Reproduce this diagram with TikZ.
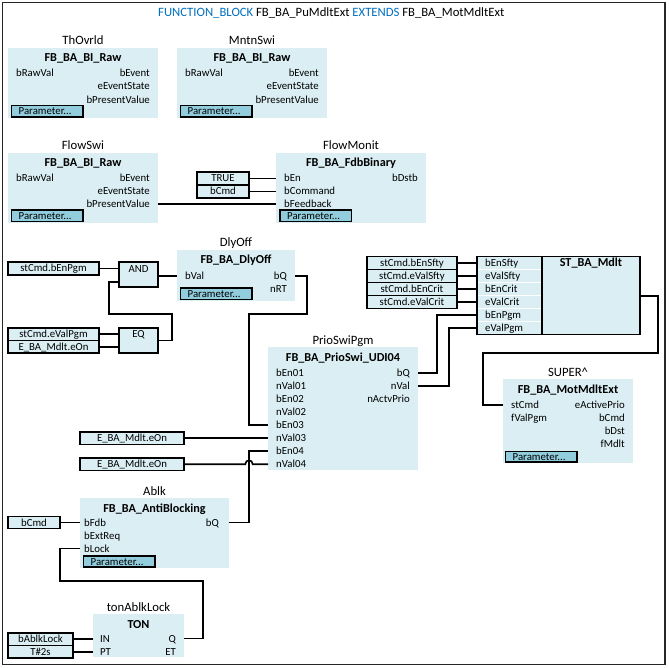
\documentclass[tikz,border=0pt]{standalone}
\usepackage{fontspec}
\setmainfont{Carlito}
\usetikzlibrary{calc}
\definecolor{fbfill}{RGB}{218,238,243}
\definecolor{parfill}{RGB}{146,205,221}
\definecolor{kw}{RGB}{0,112,192}
\newcommand\pinfont{\fontsize{10.8}{12}\selectfont}
\tikzset{
 fb/.style={fill=fbfill, draw=none, inner sep=0pt, outer sep=0pt, anchor=north west},
 inst/.style={font=\fontsize{12.7}{14}\selectfont, anchor=base, inner sep=0pt},
 typ/.style={font=\bfseries\fontsize{12.2}{14}\selectfont, anchor=base, inner sep=0pt},
 pl/.style={font=\pinfont, anchor=base west, inner sep=0pt},
 pr/.style={font=\pinfont, anchor=base east, inner sep=0pt},
 pc/.style={font=\pinfont, anchor=base, inner sep=0pt},
 parbox/.style={fill=parfill, draw=black, line width=1.1pt, inner sep=0pt, outer sep=0pt, anchor=north west},
 cbox/.style={fill=fbfill, draw=black, line width=1.1pt, inner sep=0pt, outer sep=0pt, anchor=north west, font=\pinfont, text height=9pt, text depth=2pt},
 wire/.style={draw=black, line width=1.6pt, line join=miter},
}
\newcommand\fbblock[7]{%
 \node[fb, minimum width=#4pt, minimum height=#5pt] (#1) at (#2,#3) {};
 \node[inst] (#1-inst) at (#2+#4/2,#3-3) {#6};
 \node[typ] (#1-type) at (#2+#4/2,#3+14) {#7};
}
\newcommand\pinL[4]{\node[pl] (#1) at (#2,#3+3.5) {#4};}
\newcommand\pinR[4]{\node[pr] (#1) at (#2,#3+3.5) {#4};}
\newcommand\parm[5]{%
 \node[parbox, minimum width=#4pt, minimum height=#5pt] (#1) at (#2,#3) {};
 \node[pl] (#1-t) at (#2+7,#3+#5/2+3.5) {Parameter...};
}
\newcommand\cbox[6]{\node[cbox, minimum width=#4pt, minimum height=#5pt] (#1) at (#2,#3) {#6};}
\begin{document}
\begin{tikzpicture}[x=1pt,y=-1pt]
\useasboundingbox (0,0) rectangle (669,668);
\fill[white] (0,0) rectangle (669,668);
\draw[line width=1.3pt, draw=black!85] (2.5,2.5) rectangle (665,664.5);

% title
\node[anchor=base west, inner sep=0pt, font=\fontsize{12.7}{14}\selectfont] (title) at (158,17)
 {\textcolor{kw}{FUNCTION\_BLOCK} FB\_BA\_PuMdltExt \textcolor{kw}{EXTENDS} FB\_BA\_MotMdltExt};

% ThOvrld
\fbblock{ThOvrld}{8}{48}{150}{70}{ThOvrld}{FB\_BA\_BI\_Raw}
\pinL{ThOvrld-bRawVal}{16}{73}{bRawVal}
\pinR{ThOvrld-bEvent}{150}{73}{bEvent}
\pinR{ThOvrld-eEventState}{150}{86.5}{eEventState}
\pinR{ThOvrld-bPresentValue}{150}{100}{bPresentValue}
\parm{ThOvrld-par}{11.5}{105.5}{71.5}{11.5}

% MntnSwi
\fbblock{MntnSwi}{177}{48}{150}{70}{MntnSwi}{FB\_BA\_BI\_Raw}
\pinL{MntnSwi-bRawVal}{185}{73}{bRawVal}
\pinR{MntnSwi-bEvent}{319}{73}{bEvent}
\pinR{MntnSwi-eEventState}{319}{86.5}{eEventState}
\pinR{MntnSwi-bPresentValue}{319}{100}{bPresentValue}
\parm{MntnSwi-par}{180.5}{105.5}{71.5}{11.5}

% FlowSwi
\fbblock{FlowSwi}{8}{153}{150}{70}{FlowSwi}{FB\_BA\_BI\_Raw}
\pinL{FlowSwi-bRawVal}{16}{178}{bRawVal}
\pinR{FlowSwi-bEvent}{150}{178}{bEvent}
\pinR{FlowSwi-eEventState}{150}{191}{eEventState}
\pinR{FlowSwi-bPresentValue}{150}{204}{bPresentValue}
\parm{FlowSwi-par}{11.5}{210}{71.5}{11.5}

% FlowMonit
\fbblock{FlowMonit}{276}{153}{150}{70}{FlowMonit}{FB\_BA\_FdbBinary}
\pinL{FlowMonit-bEn}{284}{178}{bEn}
\pinL{FlowMonit-bCommand}{284}{191}{bCommand}
\pinL{FlowMonit-bFeedback}{284}{204}{bFeedback}
\pinR{FlowMonit-bDstb}{418}{178}{bDstb}
\parm{FlowMonit-par}{280}{210}{71.5}{11.5}
\cbox{cTRUE}{197}{172}{52}{13}{TRUE}
\cbox{cbCmdA}{197}{185}{52}{13}{bCmd}

% DlyOff
\fbblock{DlyOff}{177}{250}{118}{51}{DlyOff}{FB\_BA\_DlyOff}
\pinL{DlyOff-bVal}{185}{276}{bVal}
\pinR{DlyOff-bQ}{287}{276}{bQ}
\pinR{DlyOff-nRT}{287}{289}{nRT}
\parm{DlyOff-par}{180.5}{288}{71.5}{11.5}

% AND / EQ
\cbox{cEnPgm}{8}{262}{91}{13}{stCmd.bEnPgm}
\node[cbox, minimum width=39pt, minimum height=25pt] (AND) at (119,262) {};
\node[pc] (AND-t) at (138.5,272.5) {AND};
\cbox{cValPgm}{8}{328}{91}{12.5}{stCmd.eValPgm}
\cbox{cEOn0}{8}{340.5}{91}{12.5}{E\_BA\_Mdlt.eOn}
\node[cbox, minimum width=39pt, minimum height=25pt] (EQ) at (119,328) {};
\node[pc] (EQ-t) at (138.5,337.5) {EQ};

% PrioSwiPgm
\fbblock{PrioSwi}{268}{347}{150}{123}{PrioSwiPgm}{FB\_BA\_PrioSwi\_UDI04}
\pinL{PrioSwi-bEn01}{276}{373}{bEn01}
\pinL{PrioSwi-nVal01}{276}{386}{nVal01}
\pinL{PrioSwi-bEn02}{276}{399}{bEn02}
\pinL{PrioSwi-nVal02}{276}{412}{nVal02}
\pinL{PrioSwi-bEn03}{276}{425}{bEn03}
\pinL{PrioSwi-nVal03}{276}{438}{nVal03}
\pinL{PrioSwi-bEn04}{276}{451}{bEn04}
\pinL{PrioSwi-nVal04}{276}{464}{nVal04}
\pinR{PrioSwi-bQ}{410}{373}{bQ}
\pinR{PrioSwi-nVal}{410}{386}{nVal}
\pinR{PrioSwi-nActvPrio}{410}{399}{nActvPrio}
\cbox{cEOn1}{80}{432}{104}{12.5}{E\_BA\_Mdlt.eOn}
\cbox{cEOn2}{80}{458}{104}{12.5}{E\_BA\_Mdlt.eOn}

% ST_BA_Mdlt
\node[cbox, minimum width=163pt, minimum height=78pt] (ST) at (477,256.5) {};
\foreach \yy in {269.5,282.5,295.5,308.5,321.5}{\draw[white, line width=0.9pt] (478,\yy) -- (541.5,\yy);}
\draw[black, line width=1.1pt] (542,256.5) -- (542,334.5);
\node[typ] (ST-type) at (591,267) {ST\_BA\_Mdlt};
\pinL{ST-bEnSfty}{485}{263}{bEnSfty}
\pinL{ST-eValSfty}{485}{276}{eValSfty}
\pinL{ST-bEnCrit}{485}{289}{bEnCrit}
\pinL{ST-eValCrit}{485}{302}{eValCrit}
\pinL{ST-bEnPgm}{485}{315}{bEnPgm}
\pinL{ST-eValPgm}{485}{328}{eValPgm}
\cbox{cSfty1}{367}{256.5}{90}{13}{stCmd.bEnSfty}
\cbox{cSfty2}{367}{269.5}{90}{13}{stCmd.eValSfty}
\cbox{cCrit1}{367}{282.5}{90}{13}{stCmd.bEnCrit}
\cbox{cCrit2}{367}{295.5}{90}{13}{stCmd.eValCrit}

% SUPER^
\fbblock{SUPER}{503}{379}{130}{84}{SUPER\^{}}{FB\_BA\_MotMdltExt}
\pinL{SUPER-stCmd}{511}{405}{stCmd}
\pinL{SUPER-fValPgm}{511}{418}{fValPgm}
\pinR{SUPER-eActivePrio}{625}{405}{eActivePrio}
\pinR{SUPER-bCmd}{625}{418}{bCmd}
\pinR{SUPER-bDst}{625}{431}{bDst}
\pinR{SUPER-fMdlt}{625}{444}{fMdlt}
\parm{SUPER-par}{505.5}{451.5}{71.5}{10.5}

% Ablk
\fbblock{Ablk}{80}{498}{149}{70}{Ablk}{FB\_BA\_AntiBlocking}
\pinL{Ablk-bFdb}{84}{522.5}{bFdb}
\pinL{Ablk-bExtReq}{84}{535.5}{bExtReq}
\pinL{Ablk-bLock}{84}{548.5}{bLock}
\pinR{Ablk-bQ}{219}{522.5}{bQ}
\parm{Ablk-par}{83.5}{556}{71.5}{11}
\cbox{cbCmdB}{8}{516.5}{52}{12}{bCmd}

% TON
\fbblock{TON}{93}{614}{91}{43}{tonAblkLock}{TON}
\pinL{TON-IN}{100}{638.5}{IN}
\pinL{TON-PT}{100}{651.5}{PT}
\pinR{TON-Q}{176}{638.5}{Q}
\pinR{TON-ET}{176}{651.5}{ET}
\cbox{cAblkLock}{8}{633}{65}{12.5}{bAblkLock}
\cbox{cT2s}{8}{645.5}{65}{12.5}{T\#2s}

% pin coordinates
\coordinate (FlowSwi-o) at (158,204);
\coordinate (FlowMonit-i3) at (276,204);
\coordinate (AND-o) at (158,276);
\coordinate (DlyOff-i) at (177,276);
\coordinate (AND-i2) at (119,282);
\coordinate (EQ-o) at (158,340.5);
\coordinate (DlyOff-o) at (295,276);
\coordinate (PrioSwi-i5) at (268,425);
\coordinate (PrioSwi-i7) at (268,451);
\coordinate (PrioSwi-o1) at (418,373);
\coordinate (PrioSwi-o2) at (418,386);
\coordinate (ST-i5) at (477,315);
\coordinate (ST-i6) at (477,328);
\coordinate (ST-o) at (640,296);
\coordinate (SUPER-i1) at (503,405);
\coordinate (Ablk-o) at (229,522.5);
\coordinate (Ablk-i3) at (80,548.5);
\coordinate (TON-o) at (184,638.5);

% wires
\draw[wire] (cTRUE.east) -- (FlowMonit.west |- cTRUE.east);
\draw[wire] (cbCmdA.east) -- (FlowMonit.west |- cbCmdA.east);
\draw[wire] (FlowSwi-o) -- (FlowMonit-i3);
\draw[wire] (cEnPgm.east) -- (AND.west |- cEnPgm.east);
\draw[wire] (AND-o) -- (DlyOff-i);
\draw[wire] (EQ-o) -- (172,340.5) -- (172,314) -- (109,314) -- (109,282) -- (AND-i2);
\draw[wire] (cValPgm.east) -- (EQ.west |- cValPgm.east);
\draw[wire] (cEOn0.east) -- (EQ.west |- cEOn0.east);
\draw[wire] (DlyOff-o) -- (307,276) -- (307,314) -- (249,314) -- (249,425) -- (PrioSwi-i5);
\draw[wire] (cEOn1.east) -- (PrioSwi.west |- cEOn1.east);
\draw[wire] (cEOn2.east) -- (245.3,464.25) .. controls (245.3,459) and (252.7,459) .. (252.7,464.25) -- (PrioSwi.west |- cEOn2.east);
\draw[wire] (Ablk-o) -- (249,522.5) -- (249,451) -- (PrioSwi-i7);
\draw[wire] (PrioSwi-o1) -- (437,373) -- (437,315) -- (ST-i5);
\draw[wire] (PrioSwi-o2) -- (449,386) -- (449,328) -- (ST-i6);
\draw[wire] (cSfty1.east) -- (ST.west |- cSfty1.east);
\draw[wire] (cSfty2.east) -- (ST.west |- cSfty2.east);
\draw[wire] (cCrit1.east) -- (ST.west |- cCrit1.east);
\draw[wire] (cCrit2.east) -- (ST.west |- cCrit2.east);
\draw[wire] (ST-o) -- (658,296) -- (658,353) -- (483,353) -- (483,405) -- (SUPER-i1);
\draw[wire] (cbCmdB.east) -- (Ablk.west |- cbCmdB.east);
\draw[wire] (Ablk-i3) -- (60,548.5) -- (60,581) -- (203,581) -- (203,638.5) -- (TON-o);
\draw[wire] (cAblkLock.east) -- (TON.west |- cAblkLock.east);
\draw[wire] (cT2s.east) -- (TON.west |- cT2s.east);
\end{tikzpicture}
\end{document}
